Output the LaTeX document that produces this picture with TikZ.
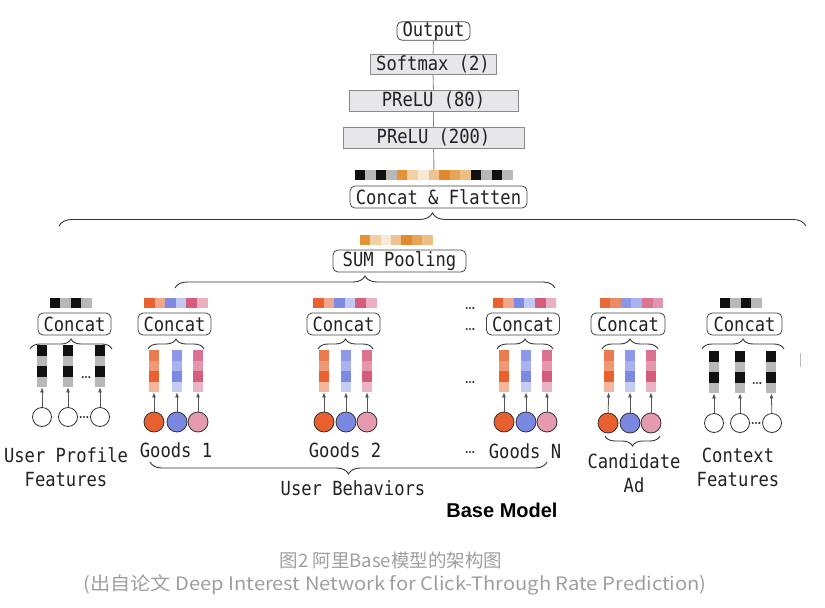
\documentclass[tikz,border=0pt]{standalone}
\usepackage{fontspec}
\newfontfamily\monof[FakeStretch=0.88]{DejaVu Sans Mono}
\newfontfamily\capfont{Noto Sans CJK SC}
\newfontfamily\boldsans{Liberation Sans}
\usetikzlibrary{decorations.pathreplacing,arrows.meta,calc}

\definecolor{txt}{HTML}{222222}
\definecolor{bordc}{HTML}{444444}
\definecolor{gborder}{HTML}{8A8A8A}
\definecolor{gfill}{HTML}{E6E6EB}
\definecolor{linec}{HTML}{8A8A8A}
\definecolor{arrc}{HTML}{555555}
\definecolor{bracec}{HTML}{333333}
\definecolor{capc}{HTML}{9E9E9E}
\definecolor{dotc}{HTML}{333333}
% black / gray
\definecolor{blk}{HTML}{111111}
\definecolor{gry}{HTML}{B8B8B8}
% orange family
\definecolor{oa}{HTML}{E39436}
\definecolor{ob}{HTML}{F2CFA4}
\definecolor{oc}{HTML}{F8E8D6}
\definecolor{od}{HTML}{EFC38F}
\definecolor{oe}{HTML}{E0892D}
\definecolor{of}{HTML}{E9A356}
\definecolor{og}{HTML}{EDBF84}
% goods strips
\definecolor{sr1}{HTML}{E8612F}
\definecolor{sr2}{HTML}{F0A68A}
\definecolor{sb1}{HTML}{7D8AE3}
\definecolor{sb2}{HTML}{C3C8F2}
\definecolor{sp1}{HTML}{D45D7E}
\definecolor{sp2}{HTML}{EAB0C1}
% candidate strip
\definecolor{cr1}{HTML}{E8693A}
\definecolor{cr2}{HTML}{EC8A62}
\definecolor{cb1}{HTML}{8A96E6}
\definecolor{cb2}{HTML}{A9B1EE}
\definecolor{cp1}{HTML}{D97591}
\definecolor{cp2}{HTML}{E296AD}
% bars
\definecolor{ob1}{HTML}{EA7B4F}
\definecolor{ob2}{HTML}{EF9777}
\definecolor{ob3}{HTML}{E8612F}
\definecolor{ob4}{HTML}{F4B59B}
\definecolor{bb1}{HTML}{8D99E8}
\definecolor{bb2}{HTML}{AAB2EE}
\definecolor{bb3}{HTML}{7D8AE3}
\definecolor{bb4}{HTML}{C7CCF4}
\definecolor{pb1}{HTML}{D9738F}
\definecolor{pb2}{HTML}{E396AC}
\definecolor{pb3}{HTML}{D45D7E}
\definecolor{pb4}{HTML}{EBB4C4}
% circles
\definecolor{corg}{HTML}{E8602F}
\definecolor{cblu}{HTML}{7B88E2}
\definecolor{cpnk}{HTML}{E59AB0}

\newcommand\hstripe[6]{% name, center x, top y, cell width, cells, colours
  \node[inner sep=0pt, minimum width=#4*#5, minimum height=10, anchor=north] (#1) at (#2,#3) {};
  \foreach \c [count=\i from 0] in {#6} {\fill[fill=\c] ($(#1.north west)+(\i*#4,0)$) rectangle ++(#4,10);}
}
\newcommand\vbar[4]{% name, center x, top y, colours
  \node[inner sep=0pt, minimum width=10, minimum height=42, anchor=north] (#1) at (#2,#3) {};
  \foreach \c [count=\i from 0] in {#4} {\fill[fill=\c] ($(#1.north west)+(0,\i*10.5)$) rectangle ++(10,10.5);}
}
\newcommand\threedots[2]{\foreach \k in {-1,0,1} {\fill[dotc] (#1+\k*3.3,#2) circle (1.2pt);}}

\tikzset{
  mono/.style={font=\monof\fontsize{19.5}{24}\selectfont, text=txt},
  rbox/.style={mono, draw=bordc, line width=0.8pt, rounded corners=5pt, fill=white, inner sep=0pt, minimum height=22},
  gbox/.style={mono, draw=gborder, fill=gfill, line width=0.8pt, inner sep=0pt, minimum height=21},
  link/.style={draw=linec, line width=0.9pt},
  arr/.style={draw=arrc, line width=0.8pt, -{Latex[length=5pt,width=4pt]}},
  brc/.style={draw=bracec, line width=0.9pt, decorate, decoration={brace, amplitude=#1}},
  brcd/.style={draw=bracec, line width=0.9pt, decorate, decoration={brace, mirror, amplitude=#1}},
  cnode/.style={circle, draw=bracec, line width=0.8pt, minimum size=20, inner sep=0pt},
  wnode/.style={circle, draw=bracec, fill=white, line width=0.8pt, minimum size=19, inner sep=0pt},
  lbl/.style={mono, align=center, inner sep=0pt},
}

\begin{document}
\begin{tikzpicture}[x=1pt,y=-1pt]
\useasboundingbox (0,0) rectangle (825,608);

% ---------- top stack ----------
\node[rbox, minimum width=73, minimum height=18] (out) at (433.5,31) {Output};
\node[gbox, minimum width=126, minimum height=20] (soft) at (433,64) {Softmax (2)};
\node[gbox, minimum width=169] (p80) at (433.5,100.5) {PReLU (80)};
\node[gbox, minimum width=181] (p200) at (433.5,137.5) {PReLU (200)};
\hstripe{cfs}{434}{170}{10.53}{15}{blk,gry,blk,gry,oa,ob,oc,od,oe,of,og,blk,gry,blk,gry}
\node[rbox, minimum width=177] (cf) at (438.5,197) {Concat \& Flatten};
\draw[link] (out) -- (soft);
\draw[link] (soft) -- (p80);
\draw[link] (p80) -- (p200);
\draw[link] (p200) -- (cfs);

% big brace
\coordinate (bigL) at (59,226);
\coordinate (bigR) at (806,226);
\draw[brc=13] (bigL) -- (bigR);

% SUM pooling
\hstripe{sps}{396.4}{235}{10.4}{7}{oa,ob,oc,od,oe,of,og}
\node[rbox, minimum width=133] (sp) at (399.5,261) {SUM Pooling};
\coordinate (spL) at (175,288);
\coordinate (spR) at (555,288);
\draw[brc=12] (spL) -- (spR);

% ---------- User profile ----------
\hstripe{ups}{71}{298}{10.6}{4}{blk,gry,blk,gry}
\node[rbox, minimum width=73] (upc) at (74.5,324) {Concat};
\coordinate (upL) at (30,349); \coordinate (upR) at (112,349);
\draw[brc=10] (upL) -- (upR);
\vbar{upb1}{42}{345}{blk,gry,blk,gry}
\vbar{upb2}{68}{345}{blk,gry,blk,gry}
\vbar{upb3}{100}{345}{blk,gry,blk,gry}
\threedots{86}{377}
\node[wnode] (upc1) at (42,417) {};
\node[wnode] (upc2) at (68,417) {};
\node[wnode] (upc3) at (100,417) {};
\threedots{84}{417}
\draw[arr] (upc1) -- (upb1);
\draw[arr] (upc2) -- (upb2);
\draw[arr] (upc3) -- (upb3);
\node[lbl] (uplbl) at (66,467) {User Profile\\Features};

% ---------- Goods 1 ----------
\hstripe{g1s}{176}{298}{10.6}{6}{sr1,sr2,sb1,sb2,sp1,sp2}
\node[rbox, minimum width=73] (g1c) at (174.5,324) {Concat};
\coordinate (g1L) at (148,349); \coordinate (g1R) at (204,349);
\draw[brc=10] (g1L) -- (g1R);
\vbar{g1b1}{154}{350}{ob1,ob2,ob3,ob4}
\vbar{g1b2}{177}{350}{bb1,bb2,bb3,bb4}
\vbar{g1b3}{198}{350}{pb1,pb2,pb3,pb4}
\node[cnode, fill=corg] (g1o) at (154,422) {};
\node[cnode, fill=cblu] (g1u) at (177,422) {};
\node[cnode, fill=cpnk] (g1p) at (198,422) {};
\draw[arr] (g1o) -- (g1b1);
\draw[arr] (g1u) -- (g1b2);
\draw[arr] (g1p) -- (g1b3);
\node[lbl] (g1lbl) at (176,450) {Goods 1};

% ---------- Goods 2 ----------
\hstripe{g2s}{345}{298}{10.6}{6}{sr1,sr2,sb1,sb2,sp1,sp2}
\node[rbox, minimum width=73] (g2c) at (343.5,324) {Concat};
\coordinate (g2L) at (318,349); \coordinate (g2R) at (373,349);
\draw[brc=10] (g2L) -- (g2R);
\vbar{g2b1}{324}{350}{ob1,ob2,ob3,ob4}
\vbar{g2b2}{346}{350}{bb1,bb2,bb3,bb4}
\vbar{g2b3}{367}{350}{pb1,pb2,pb3,pb4}
\node[cnode, fill=corg] (g2o) at (324,422) {};
\node[cnode, fill=cblu] (g2u) at (346,422) {};
\node[cnode, fill=cpnk] (g2p) at (367,422) {};
\draw[arr] (g2o) -- (g2b1);
\draw[arr] (g2u) -- (g2b2);
\draw[arr] (g2p) -- (g2b3);
\node[lbl] (g2lbl) at (345,450) {Goods 2};

% dots column
\threedots{470}{308}
\threedots{470}{329}
\threedots{470}{382}
\threedots{470}{452}

% ---------- Goods N ----------
\hstripe{gns}{524.5}{298}{10.6}{6}{sr1,sr2,sb1,sb2,sp1,sp2}
\node[rbox, minimum width=73] (gnc) at (523,324) {Concat};
\coordinate (gnL) at (497,349); \coordinate (gnR) at (553,349);
\draw[brc=10] (gnL) -- (gnR);
\vbar{gnb1}{504}{350}{ob1,ob2,ob3,ob4}
\vbar{gnb2}{526}{350}{bb1,bb2,bb3,bb4}
\vbar{gnb3}{547}{350}{pb1,pb2,pb3,pb4}
\node[cnode, fill=corg] (gno) at (504,422) {};
\node[cnode, fill=cblu] (gnu) at (526,422) {};
\node[cnode, fill=cpnk] (gnp) at (547,422) {};
\draw[arr] (gno) -- (gnb1);
\draw[arr] (gnu) -- (gnb2);
\draw[arr] (gnp) -- (gnb3);
\node[lbl] (gnlbl) at (525,451) {Goods N};

% user behaviours brace
\coordinate (ubL) at (150,462); \coordinate (ubR) at (547,462);
\draw[brcd=12] (ubL) -- (ubR);
\node[lbl] (ublbl) at (353,488) {User Behaviors};
\node[font=\boldsans\bfseries\fontsize{20}{22}\selectfont, text=black, inner sep=0pt] (bm) at (502,510) {Base Model};

% ---------- Candidate Ad ----------
\hstripe{cas}{631.5}{298}{10.6}{6}{cr1,cr2,cb1,cb2,cp1,cp2}
\node[rbox, minimum width=74] (cac) at (628,324) {Concat};
\coordinate (caL) at (602,349); \coordinate (caR) at (658,349);
\draw[brc=10] (caL) -- (caR);
\vbar{cab1}{609}{350}{ob1,ob2,ob3,ob4}
\vbar{cab2}{630}{350}{bb1,bb2,bb3,bb4}
\vbar{cab3}{651}{350}{pb1,pb2,pb3,pb4}
\node[cnode, fill=corg] (cao) at (608,423) {};
\node[cnode, fill=cblu] (cau) at (630,423) {};
\node[cnode, fill=cpnk] (cap) at (651,423) {};
\draw[arr] (cao) -- (cab1);
\draw[arr] (cau) -- (cab2);
\draw[arr] (cap) -- (cab3);
\coordinate (cbL) at (605,436); \coordinate (cbR) at (660,436);
\draw[brcd=10] (cbL) -- (cbR);
\node[lbl] (calbl) at (634,473) {Candidate\\Ad};

% ---------- Context ----------
\hstripe{cts}{741}{298}{10.6}{4}{blk,gry,blk,gry}
\node[rbox, minimum width=75] (ctc) at (744.5,324) {Concat};
\coordinate (ctL) at (702,349); \coordinate (ctR) at (784,349);
\draw[brc=10] (ctL) -- (ctR);
\vbar{ctb1}{714}{351}{blk,gry,blk,gry}
\vbar{ctb2}{740}{351}{blk,gry,blk,gry}
\vbar{ctb3}{771}{351}{blk,gry,blk,gry}
\threedots{757}{383}
\node[wnode] (ctc1) at (714,423) {};
\node[wnode] (ctc2) at (740,423) {};
\node[wnode] (ctc3) at (772,423) {};
\threedots{756}{423}
\draw[arr] (ctc1) -- (ctb1);
\draw[arr] (ctc2) -- (ctb2);
\draw[arr] (ctc3) -- (ctb3);
\node[lbl] (ctlbl) at (738,467) {Context\\Features};

% cropped tick at right edge
\draw[draw=gry, line width=0.8pt] (800,353) -- (800,367);

% ---------- caption ----------
\node[font=\capfont\fontsize{18.5}{20}\selectfont, text=capc, inner sep=0pt] (cap1) at (391,560) {图2 阿里Base模型的架构图};
\node[font=\capfont\fontsize{18.5}{20}\selectfont, text=capc, inner sep=0pt] (cap2) at (395,585) {\scalebox{1.09}[1]{(出自论文 Deep Interest Network for Click-Through Rate Prediction)}};
\end{tikzpicture}
\end{document}
